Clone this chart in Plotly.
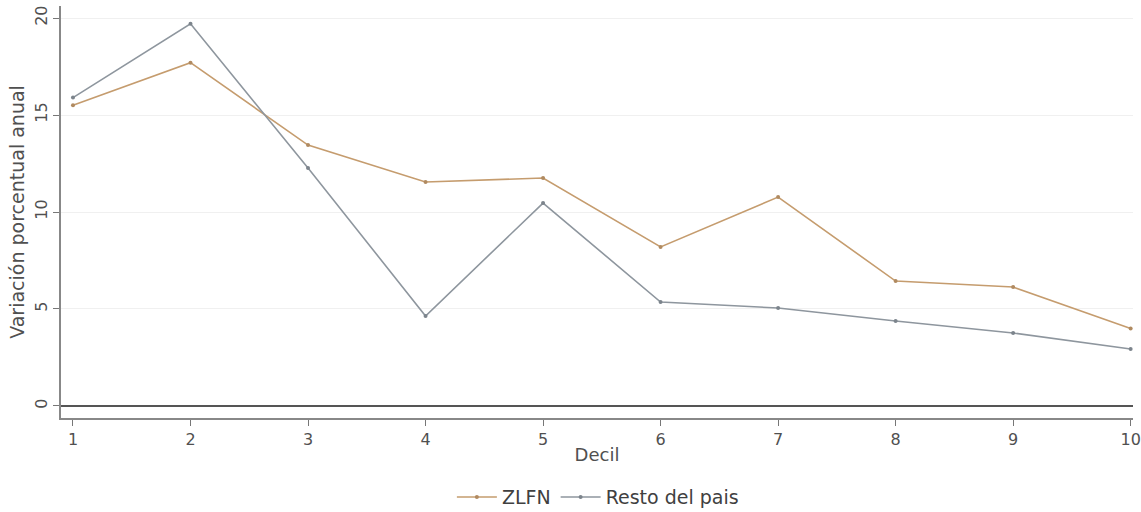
import plotly.graph_objects as go

deciles = [1, 2, 3, 4, 5, 6, 7, 8, 9, 10]
zlfn = [15.5, 17.7, 13.45, 11.55, 11.75, 8.2, 10.77, 6.44, 6.13, 4.0]
resto = [15.9, 19.7, 12.27, 4.64, 10.46, 5.36, 5.05, 4.38, 3.76, 2.94]
series_names = ["ZLFN", "Resto del pais"]
y_ticks = [0, 5, 10, 15, 20]

FONT = "DejaVu Sans"
TXT = "#505050"
fig = go.Figure()
fig.add_trace(go.Scatter(x=deciles, y=zlfn, name=series_names[0], mode="lines+markers",
                         line=dict(color="#c59c6e", width=1.6),
                         marker=dict(size=4, color="#b08a60")))
fig.add_trace(go.Scatter(x=deciles, y=resto, name=series_names[1], mode="lines+markers",
                         line=dict(color="#8e969e", width=1.6),
                         marker=dict(size=4, color="#7c848c")))

fig.update_layout(
    width=1141, height=512,
    margin=dict(l=61, r=8, t=6, b=94, autoexpand=False),
    paper_bgcolor="white", plot_bgcolor="white",
    font=dict(family=FONT, size=16, color=TXT),
    legend=dict(orientation="h", xref="container", yref="container",
                x=0.524, xanchor="center", y=0.029, yanchor="middle",
                itemwidth=40,
                font=dict(size=19, color="#404040")),
    xaxis=dict(range=[0.898, 10.02], tickvals=deciles, showgrid=False, automargin=False,
               ticks="outside", ticklen=6, tickcolor="#777", showline=True,
               linecolor="#888", linewidth=1.5, zeroline=False,
               tickfont=dict(size=16, color=TXT),
               title=dict(text="Decil", standoff=0, font=dict(size=18, color=TXT))),
    yaxis=dict(range=[-0.62, 20.62], tickvals=y_ticks, tickangle=-90, automargin=False,
               showgrid=True, gridcolor="#f0f0f0", gridwidth=1,
               ticks="outside", ticklen=6, tickcolor="#777", showline=True,
               linecolor="#888", linewidth=1.5,
               zeroline=True, zerolinecolor="#555", zerolinewidth=2,
               tickfont=dict(size=16, color=TXT),
               title=dict(text="Variación porcentual anual", standoff=2,
                          font=dict(size=19, color=TXT))),
)
post = ("document.body.style.margin='0px';"
        "document.body.style.overflow='hidden';"
        "document.documentElement.style.overflow='hidden';")
fig.write_html("out.html", post_script=post, config={"displayModeBar": False})
